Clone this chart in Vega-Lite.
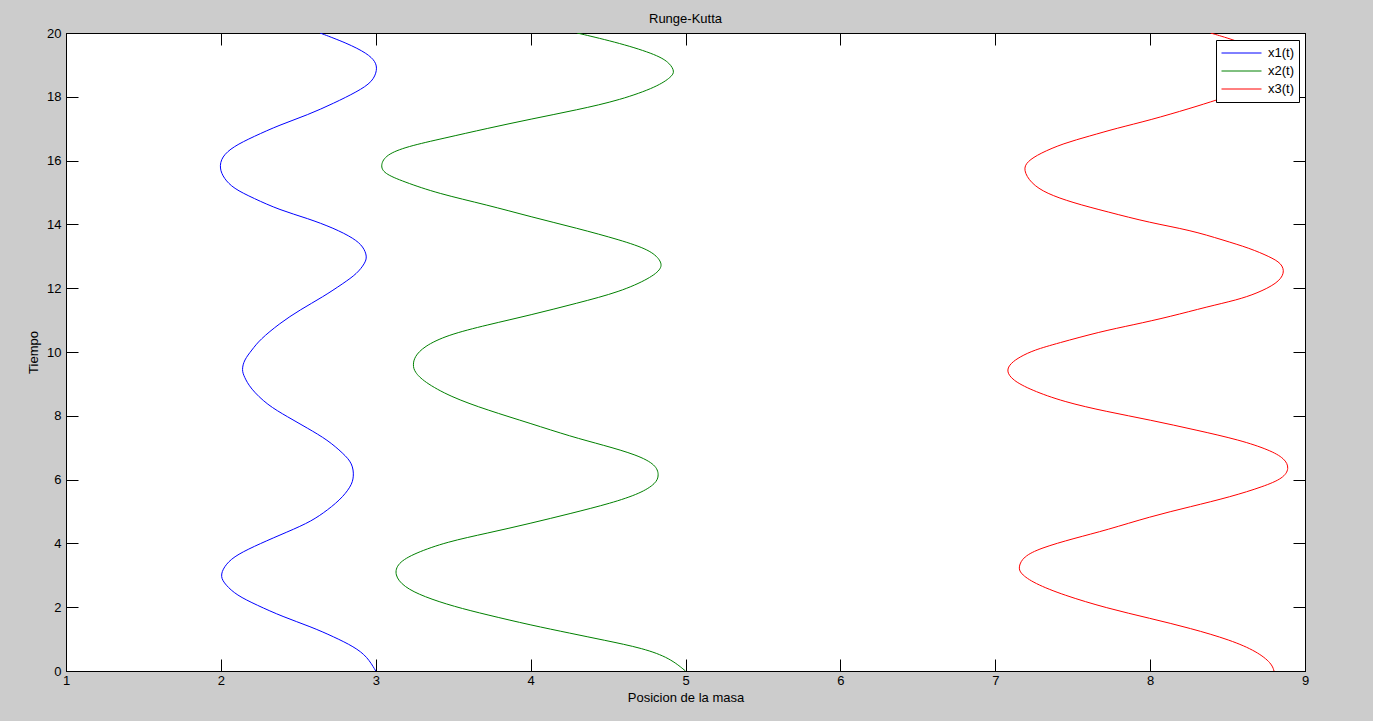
{
  "$schema": "https://vega.github.io/schema/vega-lite/v6.json",
  "width": 1239,
  "height": 638,
  "autosize": {"type": "none"},
  "padding": {"left": 66, "top": 33, "right": 68, "bottom": 50},
  "background": "#cccccc",
  "title": {"text": "Runge-Kutta", "font": "Liberation Sans", "fontSize": 13, "fontWeight": "normal", "color": "black", "baseline": "alphabetic", "offset": 10, "dy": 19, "anchor": "middle"},
  "config": {
    "view": {"fill": "white", "stroke": "black", "strokeWidth": 1},
    "axis": {"labelFont": "Liberation Sans", "labelFontSize": 13, "labelColor": "black", "titleFont": "Liberation Sans", "titleFontSize": 13, "titleFontWeight": "normal", "titleColor": "black", "tickColor": "black", "domainColor": "black", "grid": false, "tickSize": -12, "labelFlush": false, "labelOverlap": false}
  },
  "datasets": {
    "curves": [
      {"s": "x1(t)", "t": 0, "x": 3.0}, {"s": "x1(t)", "t": 0.45, "x": 2.945}, {"s": "x1(t)", "t": 0.76, "x": 2.86}, {"s": "x1(t)", "t": 1.07, "x": 2.73}, {"s": "x1(t)", "t": 1.39, "x": 2.58}, {"s": "x1(t)", "t": 1.7, "x": 2.4}, {"s": "x1(t)", "t": 2.07, "x": 2.23}, {"s": "x1(t)", "t": 2.38, "x": 2.1}, {"s": "x1(t)", "t": 2.7, "x": 2.03}, {"s": "x1(t)", "t": 2.96, "x": 1.995}, {"s": "x1(t)", "t": 3.27, "x": 2.02}, {"s": "x1(t)", "t": 3.58, "x": 2.08}, {"s": "x1(t)", "t": 3.9, "x": 2.21}, {"s": "x1(t)", "t": 4.26, "x": 2.38}, {"s": "x1(t)", "t": 4.63, "x": 2.56}, {"s": "x1(t)", "t": 4.94, "x": 2.66}, {"s": "x1(t)", "t": 5.36, "x": 2.77}, {"s": "x1(t)", "t": 5.78, "x": 2.84}, {"s": "x1(t)", "t": 6.09, "x": 2.86}, {"s": "x1(t)", "t": 6.51, "x": 2.85}, {"s": "x1(t)", "t": 6.82, "x": 2.79}, {"s": "x1(t)", "t": 7.24, "x": 2.69}, {"s": "x1(t)", "t": 7.61, "x": 2.56}, {"s": "x1(t)", "t": 7.97, "x": 2.43}, {"s": "x1(t)", "t": 8.34, "x": 2.3}, {"s": "x1(t)", "t": 8.86, "x": 2.19}, {"s": "x1(t)", "t": 9.23, "x": 2.15}, {"s": "x1(t)", "t": 9.44, "x": 2.135}, {"s": "x1(t)", "t": 9.75, "x": 2.15}, {"s": "x1(t)", "t": 10.06, "x": 2.2}, {"s": "x1(t)", "t": 10.38, "x": 2.25}, {"s": "x1(t)", "t": 10.9, "x": 2.38}, {"s": "x1(t)", "t": 11.32, "x": 2.51}, {"s": "x1(t)", "t": 11.73, "x": 2.66}, {"s": "x1(t)", "t": 12.15, "x": 2.79}, {"s": "x1(t)", "t": 12.46, "x": 2.88}, {"s": "x1(t)", "t": 12.78, "x": 2.93}, {"s": "x1(t)", "t": 12.99, "x": 2.945}, {"s": "x1(t)", "t": 13.3, "x": 2.92}, {"s": "x1(t)", "t": 13.56, "x": 2.86}, {"s": "x1(t)", "t": 13.88, "x": 2.73}, {"s": "x1(t)", "t": 14.19, "x": 2.56}, {"s": "x1(t)", "t": 14.45, "x": 2.38}, {"s": "x1(t)", "t": 14.82, "x": 2.21}, {"s": "x1(t)", "t": 15.13, "x": 2.08}, {"s": "x1(t)", "t": 15.44, "x": 2.02}, {"s": "x1(t)", "t": 15.76, "x": 1.99}, {"s": "x1(t)", "t": 16.12, "x": 2.005}, {"s": "x1(t)", "t": 16.44, "x": 2.08}, {"s": "x1(t)", "t": 16.75, "x": 2.21}, {"s": "x1(t)", "t": 17.12, "x": 2.38}, {"s": "x1(t)", "t": 17.43, "x": 2.56}, {"s": "x1(t)", "t": 17.8, "x": 2.73}, {"s": "x1(t)", "t": 18.16, "x": 2.88}, {"s": "x1(t)", "t": 18.47, "x": 2.98}, {"s": "x1(t)", "t": 18.84, "x": 3.01}, {"s": "x1(t)", "t": 19.1, "x": 3.0}, {"s": "x1(t)", "t": 19.36, "x": 2.945}, {"s": "x1(t)", "t": 19.68, "x": 2.815}, {"s": "x1(t)", "t": 20, "x": 2.64},
      {"s": "x2(t)", "t": 0, "x": 5.0}, {"s": "x2(t)", "t": 0.4, "x": 4.9}, {"s": "x2(t)", "t": 0.71, "x": 4.73}, {"s": "x2(t)", "t": 0.97, "x": 4.47}, {"s": "x2(t)", "t": 1.18, "x": 4.26}, {"s": "x2(t)", "t": 1.44, "x": 4.0}, {"s": "x2(t)", "t": 1.76, "x": 3.72}, {"s": "x2(t)", "t": 2.02, "x": 3.505}, {"s": "x2(t)", "t": 2.33, "x": 3.31}, {"s": "x2(t)", "t": 2.64, "x": 3.18}, {"s": "x2(t)", "t": 3.01, "x": 3.12}, {"s": "x2(t)", "t": 3.38, "x": 3.14}, {"s": "x2(t)", "t": 3.69, "x": 3.25}, {"s": "x2(t)", "t": 4.05, "x": 3.46}, {"s": "x2(t)", "t": 4.32, "x": 3.72}, {"s": "x2(t)", "t": 4.63, "x": 4.0}, {"s": "x2(t)", "t": 4.94, "x": 4.26}, {"s": "x2(t)", "t": 5.26, "x": 4.52}, {"s": "x2(t)", "t": 5.57, "x": 4.71}, {"s": "x2(t)", "t": 5.88, "x": 4.81}, {"s": "x2(t)", "t": 6.14, "x": 4.83}, {"s": "x2(t)", "t": 6.46, "x": 4.81}, {"s": "x2(t)", "t": 6.77, "x": 4.69}, {"s": "x2(t)", "t": 7.08, "x": 4.47}, {"s": "x2(t)", "t": 7.35, "x": 4.26}, {"s": "x2(t)", "t": 7.76, "x": 4.0}, {"s": "x2(t)", "t": 8.18, "x": 3.72}, {"s": "x2(t)", "t": 8.6, "x": 3.48}, {"s": "x2(t)", "t": 9.07, "x": 3.31}, {"s": "x2(t)", "t": 9.38, "x": 3.25}, {"s": "x2(t)", "t": 9.59, "x": 3.24}, {"s": "x2(t)", "t": 9.85, "x": 3.25}, {"s": "x2(t)", "t": 10.17, "x": 3.31}, {"s": "x2(t)", "t": 10.53, "x": 3.46}, {"s": "x2(t)", "t": 10.85, "x": 3.72}, {"s": "x2(t)", "t": 11.16, "x": 4.0}, {"s": "x2(t)", "t": 11.53, "x": 4.3}, {"s": "x2(t)", "t": 11.89, "x": 4.58}, {"s": "x2(t)", "t": 12.31, "x": 4.77}, {"s": "x2(t)", "t": 12.62, "x": 4.85}, {"s": "x2(t)", "t": 12.88, "x": 4.84}, {"s": "x2(t)", "t": 13.2, "x": 4.77}, {"s": "x2(t)", "t": 13.51, "x": 4.58}, {"s": "x2(t)", "t": 13.88, "x": 4.3}, {"s": "x2(t)", "t": 14.24, "x": 4.0}, {"s": "x2(t)", "t": 14.61, "x": 3.72}, {"s": "x2(t)", "t": 14.97, "x": 3.4}, {"s": "x2(t)", "t": 15.34, "x": 3.18}, {"s": "x2(t)", "t": 15.6, "x": 3.05}, {"s": "x2(t)", "t": 15.86, "x": 3.03}, {"s": "x2(t)", "t": 16.18, "x": 3.065}, {"s": "x2(t)", "t": 16.44, "x": 3.2}, {"s": "x2(t)", "t": 16.7, "x": 3.44}, {"s": "x2(t)", "t": 17.01, "x": 3.72}, {"s": "x2(t)", "t": 17.3, "x": 4.0}, {"s": "x2(t)", "t": 17.59, "x": 4.3}, {"s": "x2(t)", "t": 17.9, "x": 4.58}, {"s": "x2(t)", "t": 18.32, "x": 4.82}, {"s": "x2(t)", "t": 18.63, "x": 4.91}, {"s": "x2(t)", "t": 18.79, "x": 4.93}, {"s": "x2(t)", "t": 19.05, "x": 4.9}, {"s": "x2(t)", "t": 19.31, "x": 4.82}, {"s": "x2(t)", "t": 19.68, "x": 4.58}, {"s": "x2(t)", "t": 20, "x": 4.3},
      {"s": "x3(t)", "t": 0, "x": 8.8}, {"s": "x3(t)", "t": 0.24, "x": 8.785}, {"s": "x3(t)", "t": 0.61, "x": 8.69}, {"s": "x3(t)", "t": 0.97, "x": 8.52}, {"s": "x3(t)", "t": 1.34, "x": 8.26}, {"s": "x3(t)", "t": 1.65, "x": 8.0}, {"s": "x3(t)", "t": 1.97, "x": 7.72}, {"s": "x3(t)", "t": 2.38, "x": 7.44}, {"s": "x3(t)", "t": 2.75, "x": 7.25}, {"s": "x3(t)", "t": 3.06, "x": 7.16}, {"s": "x3(t)", "t": 3.27, "x": 7.15}, {"s": "x3(t)", "t": 3.58, "x": 7.18}, {"s": "x3(t)", "t": 3.85, "x": 7.29}, {"s": "x3(t)", "t": 4.16, "x": 7.51}, {"s": "x3(t)", "t": 4.42, "x": 7.72}, {"s": "x3(t)", "t": 4.84, "x": 8.0}, {"s": "x3(t)", "t": 5.15, "x": 8.26}, {"s": "x3(t)", "t": 5.46, "x": 8.52}, {"s": "x3(t)", "t": 5.78, "x": 8.73}, {"s": "x3(t)", "t": 6.04, "x": 8.86}, {"s": "x3(t)", "t": 6.35, "x": 8.9}, {"s": "x3(t)", "t": 6.66, "x": 8.87}, {"s": "x3(t)", "t": 6.93, "x": 8.77}, {"s": "x3(t)", "t": 7.24, "x": 8.58}, {"s": "x3(t)", "t": 7.55, "x": 8.3}, {"s": "x3(t)", "t": 7.87, "x": 8.0}, {"s": "x3(t)", "t": 8.13, "x": 7.72}, {"s": "x3(t)", "t": 8.44, "x": 7.44}, {"s": "x3(t)", "t": 8.81, "x": 7.23}, {"s": "x3(t)", "t": 9.12, "x": 7.11}, {"s": "x3(t)", "t": 9.41, "x": 7.07}, {"s": "x3(t)", "t": 9.65, "x": 7.1}, {"s": "x3(t)", "t": 9.85, "x": 7.16}, {"s": "x3(t)", "t": 10.06, "x": 7.25}, {"s": "x3(t)", "t": 10.27, "x": 7.4}, {"s": "x3(t)", "t": 10.64, "x": 7.68}, {"s": "x3(t)", "t": 10.85, "x": 7.89}, {"s": "x3(t)", "t": 11.11, "x": 8.13}, {"s": "x3(t)", "t": 11.42, "x": 8.37}, {"s": "x3(t)", "t": 11.63, "x": 8.56}, {"s": "x3(t)", "t": 11.84, "x": 8.69}, {"s": "x3(t)", "t": 12.15, "x": 8.82}, {"s": "x3(t)", "t": 12.47, "x": 8.87}, {"s": "x3(t)", "t": 12.78, "x": 8.85}, {"s": "x3(t)", "t": 12.99, "x": 8.77}, {"s": "x3(t)", "t": 13.25, "x": 8.645}, {"s": "x3(t)", "t": 13.51, "x": 8.47}, {"s": "x3(t)", "t": 13.82, "x": 8.26}, {"s": "x3(t)", "t": 14.05, "x": 8.0}, {"s": "x3(t)", "t": 14.4, "x": 7.72}, {"s": "x3(t)", "t": 14.68, "x": 7.5}, {"s": "x3(t)", "t": 14.97, "x": 7.33}, {"s": "x3(t)", "t": 15.29, "x": 7.23}, {"s": "x3(t)", "t": 15.71, "x": 7.18}, {"s": "x3(t)", "t": 15.97, "x": 7.205}, {"s": "x3(t)", "t": 16.23, "x": 7.29}, {"s": "x3(t)", "t": 16.54, "x": 7.44}, {"s": "x3(t)", "t": 16.77, "x": 7.61}, {"s": "x3(t)", "t": 17.01, "x": 7.78}, {"s": "x3(t)", "t": 17.27, "x": 8.0}, {"s": "x3(t)", "t": 17.64, "x": 8.26}, {"s": "x3(t)", "t": 17.9, "x": 8.43}, {"s": "x3(t)", "t": 18.2, "x": 8.62}, {"s": "x3(t)", "t": 18.5, "x": 8.78}, {"s": "x3(t)", "t": 18.85, "x": 8.87}, {"s": "x3(t)", "t": 19.2, "x": 8.83}, {"s": "x3(t)", "t": 19.5, "x": 8.7}, {"s": "x3(t)", "t": 19.8, "x": 8.53}, {"s": "x3(t)", "t": 20, "x": 8.39}
    ]
  },
  "data": {"name": "curves"},
  "layer": [
    {
      "mark": {"type": "line", "interpolate": "basis", "strokeWidth": 1, "clip": true},
      "encoding": {
        "x": {"field": "x", "type": "quantitative", "scale": {"domain": [1, 9], "nice": false, "zero": false},
              "axis": {"orient": "bottom", "values": [1, 2, 3, 4, 5, 6, 7, 8, 9], "title": "Posicion de la masa", "titlePadding": 4, "labelPadding": 15}},
        "y": {"field": "t", "type": "quantitative", "scale": {"domain": [0, 20], "nice": false, "zero": false},
              "axis": {"orient": "left", "values": [0, 2, 4, 6, 8, 10, 12, 14, 16, 18, 20], "title": "Tiempo", "titlePadding": 6, "labelPadding": 17}},
        "order": {"field": "t", "type": "quantitative"},
        "color": {"field": "s", "type": "nominal",
                  "scale": {"domain": ["x1(t)", "x2(t)", "x3(t)"], "range": ["#0000ff", "#008000", "#ff0000"]},
                  "legend": {"title": null, "orient": "none", "legendX": 1150, "legendY": 7, "fillColor": "white", "strokeColor": "black", "padding": 5,
                             "symbolType": "stroke", "symbolSize": 1600, "clipHeight": 16, "symbolStrokeWidth": 1, "labelOffset": 6, "labelFont": "Liberation Sans", "labelFontSize": 13, "labelColor": "black", "rowPadding": 2}}
      }
    },
    {
      "mark": {"type": "point", "opacity": 0},
      "encoding": {
        "x": {"field": "x", "type": "quantitative", "axis": {"orient": "top", "values": [1, 2, 3, 4, 5, 6, 7, 8, 9], "labels": false, "title": null}},
        "y": {"field": "t", "type": "quantitative", "axis": {"orient": "right", "values": [0, 2, 4, 6, 8, 10, 12, 14, 16, 18, 20], "labels": false, "title": null}}
      }
    }
  ],
  "resolve": {"axis": {"x": "independent", "y": "independent"}}
}
